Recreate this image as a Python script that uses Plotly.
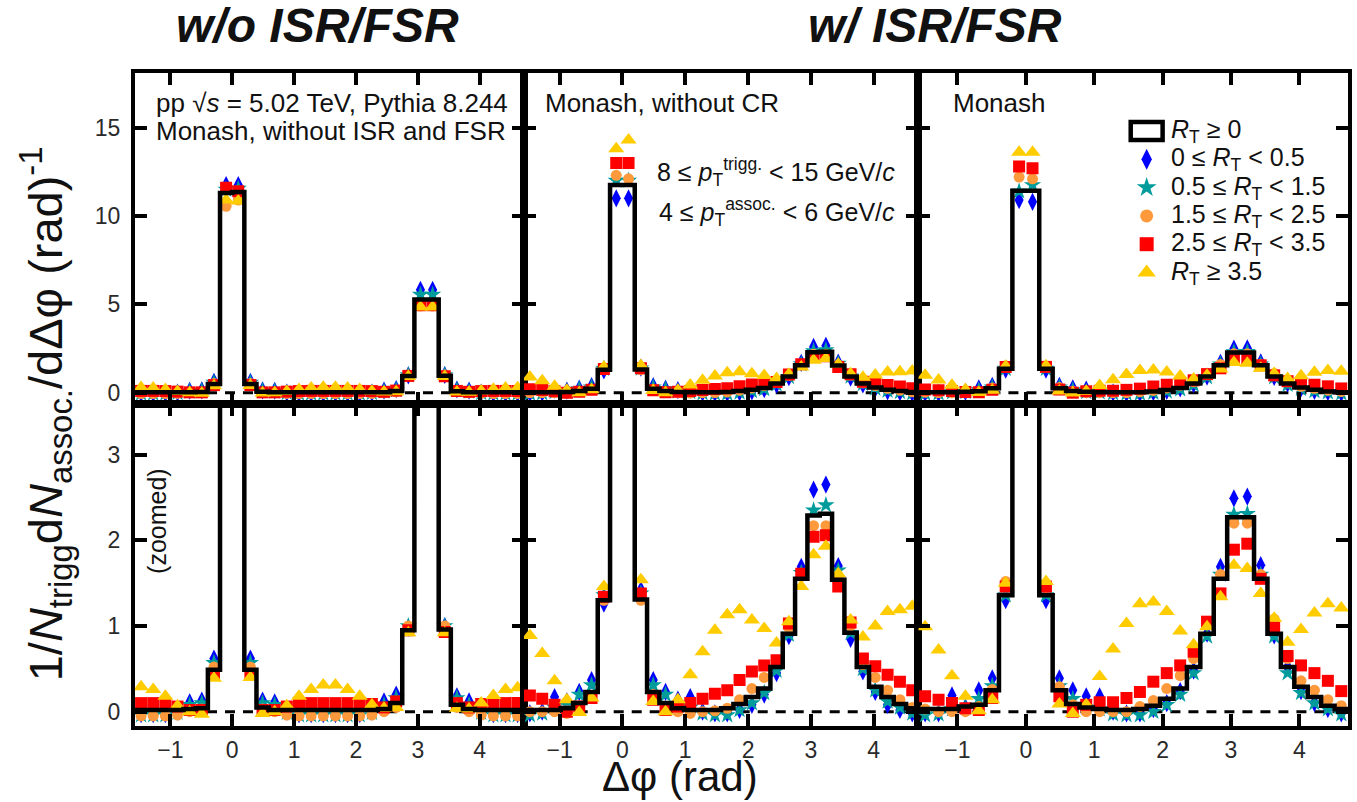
import numpy as np
import plotly.graph_objects as go

# ---------------- data ----------------
N_BINS = 32
PHI_MIN = -np.pi / 2
BIN_W = 2 * np.pi / N_BINS
edges = PHI_MIN + BIN_W * np.arange(N_BINS + 1)
centers = 0.5 * (edges[:-1] + edges[1:])

column_titles = ["w/o ISR/FSR", "w/ ISR/FSR"]
series_labels = [
    "0 ≤ <i>R</i><sub>T</sub> &lt; 0.5",
    "0.5 ≤ <i>R</i><sub>T</sub> &lt; 1.5",
    "1.5 ≤ <i>R</i><sub>T</sub> &lt; 2.5",
    "2.5 ≤ <i>R</i><sub>T</sub> &lt; 3.5",
    "<i>R</i><sub>T</sub> ≥ 3.5",
]
hist_label = "<i>R</i><sub>T</sub> ≥ 0"
x_ticks = [-1, 0, 1, 2, 3, 4]
y_ticks_top = [0, 5, 10, 15]
y_ticks_bottom = [0, 1, 2, 3]

# Panel 1: Monash, without ISR and FSR
hist_noisr = [0.02, 0.02, 0.02, 0.02, 0.03, 0.04, 0.49, 11.30, 11.35, 0.49, 0.05, 0.02, 0.02, 0.02, 0.02, 0.02,
              0.02, 0.02, 0.02, 0.02, 0.03, 0.10, 0.95, 5.28, 5.28, 0.96, 0.08, 0.03, 0.02, 0.02, 0.02, 0.02]
blue_noisr = [-0.03, -0.03, -0.03, 0.00, 0.11, 0.13, 0.62, 11.75, 11.75, 0.62, 0.13, 0.11, 0.00, -0.03, -0.03, -0.03,
              -0.03, -0.03, -0.03, 0.00, 0.12, 0.20, 0.98, 5.82, 5.82, 1.00, 0.18, 0.12, 0.00, -0.03, -0.03, -0.03]
teal_noisr = [-0.04, -0.04, -0.04, -0.01, 0.08, 0.10, 0.57, 11.50, 11.55, 0.57, 0.10, 0.08, -0.01, -0.04, -0.04, -0.04,
              -0.04, -0.04, -0.04, -0.01, 0.08, 0.16, 1.00, 5.55, 5.55, 1.00, 0.16, 0.08, -0.01, -0.04, -0.04, -0.04]
orange_noisr = [-0.05, -0.05, -0.05, -0.04, 0.00, 0.03, 0.52, 10.55, 10.90, 0.52, 0.03, 0.00, -0.04, -0.05, -0.05, -0.05,
                -0.05, -0.05, -0.05, -0.04, 0.00, 0.05, 1.00, 4.90, 4.90, 1.00, 0.05, 0.00, -0.04, -0.05, -0.05, -0.05]
red_noisr = [0.10, 0.10, 0.09, 0.06, 0.02, 0.02, 0.43, 11.60, 11.40, 0.43, 0.02, 0.02, 0.06, 0.09, 0.10, 0.10,
             0.10, 0.10, 0.10, 0.09, 0.05, 0.12, 0.95, 4.95, 4.95, 0.93, 0.10, 0.05, 0.09, 0.10, 0.10, 0.10]
yellow_noisr = [0.29, 0.26, 0.18, 0.07, 0.00, -0.03, 0.39, 10.90, 10.85, 0.40, -0.02, 0.00, 0.07, 0.18, 0.26, 0.31,
                0.31, 0.26, 0.18, 0.08, 0.04, 0.05, 0.92, 4.85, 4.85, 0.92, 0.04, 0.03, 0.10, 0.19, 0.26, 0.28]

# Panel 2: Monash, without CR
hist_nocr = [0.02, 0.02, 0.02, 0.04, 0.10, 0.23, 1.30, 11.75, 11.75, 1.31, 0.23, 0.10, 0.04, 0.02, 0.02, 0.02,
             0.04, 0.09, 0.17, 0.27, 0.52, 0.91, 1.55, 2.29, 2.31, 1.54, 0.92, 0.52, 0.29, 0.17, 0.09, 0.04]
blue_nocr = [-0.02, 0.00, 0.17, 0.12, 0.23, 0.37, 1.26, 11.00, 11.00, 1.42, 0.37, 0.23, 0.14, 0.17, 0.00, -0.02,
             -0.02, 0.02, 0.08, 0.20, 0.45, 0.88, 1.69, 2.59, 2.65, 1.70, 0.85, 0.47, 0.23, 0.08, 0.02, -0.02]
teal_nocr = [-0.04, -0.02, 0.05, 0.08, 0.20, 0.31, 1.36, 12.00, 12.00, 1.38, 0.31, 0.20, 0.08, 0.05, -0.02, -0.04,
             -0.04, 0.02, 0.10, 0.22, 0.48, 0.90, 1.62, 2.35, 2.41, 1.65, 0.92, 0.50, 0.25, 0.12, 0.05, -0.02]
orange_nocr = [0.00, 0.00, 0.00, -0.02, 0.05, 0.18, 1.30, 12.30, 12.10, 1.30, 0.20, 0.05, 0.00, -0.02, 0.00, 0.01,
               0.04, 0.14, 0.27, 0.40, 0.57, 0.98, 1.58, 2.17, 2.17, 1.56, 1.00, 0.55, 0.40, 0.25, 0.14, 0.05]
red_nocr = [0.19, 0.15, 0.08, 0.00, 0.06, 0.16, 1.34, 13.00, 13.00, 1.38, 0.14, 0.02, 0.06, 0.10, 0.15, 0.21,
            0.25, 0.37, 0.47, 0.54, 0.60, 1.03, 1.61, 2.04, 2.06, 1.46, 1.04, 0.62, 0.53, 0.43, 0.35, 0.25]
yellow_nocr = [0.89, 0.68, 0.36, 0.14, -0.01, 0.16, 1.46, 13.80, 14.30, 1.54, 0.12, 0.00, 0.14, 0.43, 0.70, 0.95,
               1.13, 1.19, 1.07, 0.97, 0.80, 1.05, 1.46, 1.83, 1.93, 1.61, 1.07, 0.87, 1.00, 1.17, 1.19, 1.23]

# Panel 3: Monash
hist_monash = [0.03, 0.03, 0.03, 0.06, 0.08, 0.25, 1.36, 11.43, 11.43, 1.36, 0.25, 0.09, 0.05, 0.03, 0.02, 0.02,
               0.03, 0.07, 0.15, 0.27, 0.52, 0.91, 1.55, 2.27, 2.27, 1.55, 0.91, 0.52, 0.29, 0.17, 0.07, 0.03]
blue_monash = [-0.02, -0.02, 0.19, 0.05, 0.25, 0.39, 1.30, 10.90, 10.80, 1.30, 0.39, 0.25, 0.18, 0.18, 0.00, -0.02,
               -0.02, 0.03, 0.10, 0.24, 0.48, 0.91, 1.69, 2.49, 2.51, 1.71, 0.89, 0.52, 0.24, 0.10, 0.03, -0.02]
teal_monash = [-0.04, -0.03, 0.03, 0.05, 0.15, 0.30, 1.36, 11.40, 11.75, 1.36, 0.30, 0.15, 0.05, 0.03, -0.03, -0.04,
               -0.04, 0.00, 0.08, 0.20, 0.45, 0.88, 1.60, 2.30, 2.31, 1.60, 0.88, 0.45, 0.22, 0.10, 0.03, -0.03]
orange_monash = [0.03, 0.00, 0.00, 0.00, 0.06, 0.26, 1.52, 12.20, 12.10, 1.45, 0.29, 0.08, 0.00, 0.00, 0.00, 0.00,
                 0.06, 0.13, 0.27, 0.42, 0.62, 1.05, 1.60, 2.20, 2.20, 1.60, 1.08, 0.62, 0.36, 0.25, 0.14, 0.07]
red_monash = [0.18, 0.14, 0.10, 0.04, 0.02, 0.16, 1.46, 12.80, 12.70, 1.46, 0.18, 0.00, 0.08, 0.11, 0.11, 0.16,
              0.23, 0.35, 0.45, 0.54, 0.70, 1.05, 1.38, 1.89, 1.96, 1.55, 0.98, 0.65, 0.54, 0.45, 0.36, 0.24]
yellow_monash = [0.99, 0.72, 0.42, 0.18, 0.01, 0.14, 1.50, 13.60, 13.60, 1.52, 0.09, -0.02, 0.08, 0.41, 0.73, 1.03,
                 1.26, 1.28, 1.17, 0.94, 0.78, 0.99, 1.34, 1.71, 1.67, 1.38, 1.09, 0.81, 0.96, 1.15, 1.26, 1.21]

columns = [
    dict(hist=hist_noisr, series=[blue_noisr, teal_noisr, orange_noisr, red_noisr, yellow_noisr]),
    dict(hist=hist_nocr, series=[blue_nocr, teal_nocr, orange_nocr, red_nocr, yellow_nocr]),
    dict(hist=hist_monash, series=[blue_monash, teal_monash, orange_monash, red_monash, yellow_monash]),
]

# ---------------- styles / layout ----------------
FONT = "Liberation Sans, Arial, Helvetica, sans-serif"
styles = [
    dict(symbol="diamond-tall", color="#0000ff", size=13),
    dict(symbol="star", color="#009b9b", size=13),
    dict(symbol="circle", color="#ff9a3c", size=11),
    dict(symbol="square", color="#ff0000", size=12),
    dict(symbol="triangle-up", color="#ffcc00", size=14),
]

W, H = 1357, 802
L, R, T, B = 135, 5, 73, 76
PW, PH = W - L - R, H - T - B
col_px = [135, 525, 921, 1352]
row_split_py = 404


def fx(px):
    return (px - L) / PW


def fy(py):
    return (H - B - py) / PH


x_range = [-np.pi / 2, 3 * np.pi / 2]
y_range_top = [-0.64, 18.09]
y_range_bottom = [-0.167, 3.59]

fig = go.Figure()
layout = {}
shapes = []

for j, col in enumerate(columns):
    for row in (0, 1):
        idx = j + 1 + 3 * row
        xa = "x" if idx == 1 else f"x{idx}"
        ya = "y" if idx == 1 else f"y{idx}"
        for st, vals in zip(styles, col["series"]):
            fig.add_trace(go.Scatter(
                x=centers, y=vals, mode="markers", xaxis=xa, yaxis=ya, showlegend=False,
                marker=dict(symbol=st["symbol"], color=st["color"], size=st["size"], line=dict(width=0)),
                hoverinfo="skip"))
        hv = np.append(np.asarray(col["hist"], float), col["hist"][-1])
        fig.add_trace(go.Scatter(
            x=edges, y=hv, mode="lines", line=dict(color="black", width=4.5, shape="hv"),
            xaxis=xa, yaxis=ya, showlegend=False, hoverinfo="skip"))

        common = dict(showline=True, linewidth=4, linecolor="black", mirror="ticks",
                      ticks="inside", ticklen=12, tickwidth=4, tickcolor="black",
                      showgrid=False, zeroline=False,
                      tickfont=dict(family=FONT, size=23, color="#2a2a2a"))
        layout[f"xaxis{idx}"] = dict(
            common, domain=[fx(col_px[j]), fx(col_px[j + 1])], range=x_range, anchor=ya,
            tickvals=x_ticks, ticktext=[str(v).replace("-", "−") for v in x_ticks],
            showticklabels=(row == 1))
        layout[f"yaxis{idx}"] = dict(
            common,
            domain=[fy(row_split_py), 1] if row == 0 else [0, fy(row_split_py)],
            range=y_range_top if row == 0 else y_range_bottom, anchor=xa,
            tickvals=y_ticks_top if row == 0 else y_ticks_bottom,
            showticklabels=(j == 0), ticklabelstandoff=6)
        shapes.append(dict(type="line", xref=f"{xa} domain", yref=ya, x0=0, x1=1, y0=0, y1=0,
                           line=dict(color="black", width=3, dash="10px,8px"), layer="below"))

# helper axes in pixel units for the legend keys
layout["xaxis7"] = dict(domain=[0, 1], range=[L, W - R], visible=False, anchor="y7", fixedrange=True)
layout["yaxis7"] = dict(domain=[0, 1], range=[H - B, T], visible=False, anchor="x7", fixedrange=True)

LEG_KEY_X = 1150
LEG_TEXT_X = 1172
LEG_Y0 = 131
LEG_DY = 28.3
for i, st in enumerate(styles):
    fig.add_trace(go.Scatter(
        x=[LEG_KEY_X], y=[LEG_Y0 + LEG_DY * (i + 1)], mode="markers", xaxis="x7", yaxis="y7",
        showlegend=False, hoverinfo="skip", cliponaxis=False,
        marker=dict(symbol=st["symbol"], color=st["color"], size=st["size"] + 2, line=dict(width=0))))

shapes.append(dict(type="rect", xref="paper", yref="paper",
                   x0=fx(LEG_KEY_X - 16), x1=fx(LEG_KEY_X + 16),
                   y0=fy(LEG_Y0 - 9), y1=fy(LEG_Y0 + 9),
                   line=dict(color="black", width=4.5), fillcolor="white"))

annotations = []


def ann(text, px, py, size, xanchor="left", yanchor="middle", angle=0, color="#111111"):
    annotations.append(dict(text=text, x=fx(px), y=fy(py), xref="paper", yref="paper",
                            xanchor=xanchor, yanchor=yanchor, showarrow=False, textangle=angle,
                            font=dict(family=FONT, size=size, color=color)))


for i, lab in enumerate([hist_label] + series_labels):
    ann(lab, LEG_TEXT_X, LEG_Y0 + LEG_DY * i, 25)

ann("<b><i>" + column_titles[0] + "</i></b>", 318, 26, 48, xanchor="center")
ann("<b><i>" + column_titles[1] + "</i></b>", 938, 26, 48, xanchor="center")
ann("pp √<i>s</i> = 5.02 TeV, Pythia 8.244", 154, 103, 26)
ann("Monash, without ISR and FSR", 154, 131, 26)
ann("Monash, without CR", 544, 103, 26)
ann("8 ≤ <i>p</i><sub>T</sub><sup>trigg.</sup> &lt; 15 GeV/<i>c</i>", 900, 172, 25, xanchor="right")
ann("4 ≤ <i>p</i><sub>T</sub><sup>assoc.</sup> &lt; 6 GeV/<i>c</i>", 900, 212, 25, xanchor="right")
ann("Monash", 954, 103, 26)
ann("(zoomed)", 157, 521, 25, xanchor="center", angle=-90)
ann("1/<i>N</i><sub>trigg</sub>d<i>N</i><sub>assoc.</sub>/dΔφ (rad)<sup>-1</sup>", 45, 414, 47,
    xanchor="center", angle=-90)
ann("Δφ (rad)", 682, 776, 42, xanchor="center")

fig.update_layout(
    width=W, height=H, margin=dict(l=L, r=R, t=T, b=B),
    paper_bgcolor="white", plot_bgcolor="rgba(0,0,0,0)",
    showlegend=False, shapes=shapes, annotations=annotations,
    font=dict(family=FONT, color="#111111"),
    **layout)

fig.write_html("out.html", config={"displayModeBar": False})
